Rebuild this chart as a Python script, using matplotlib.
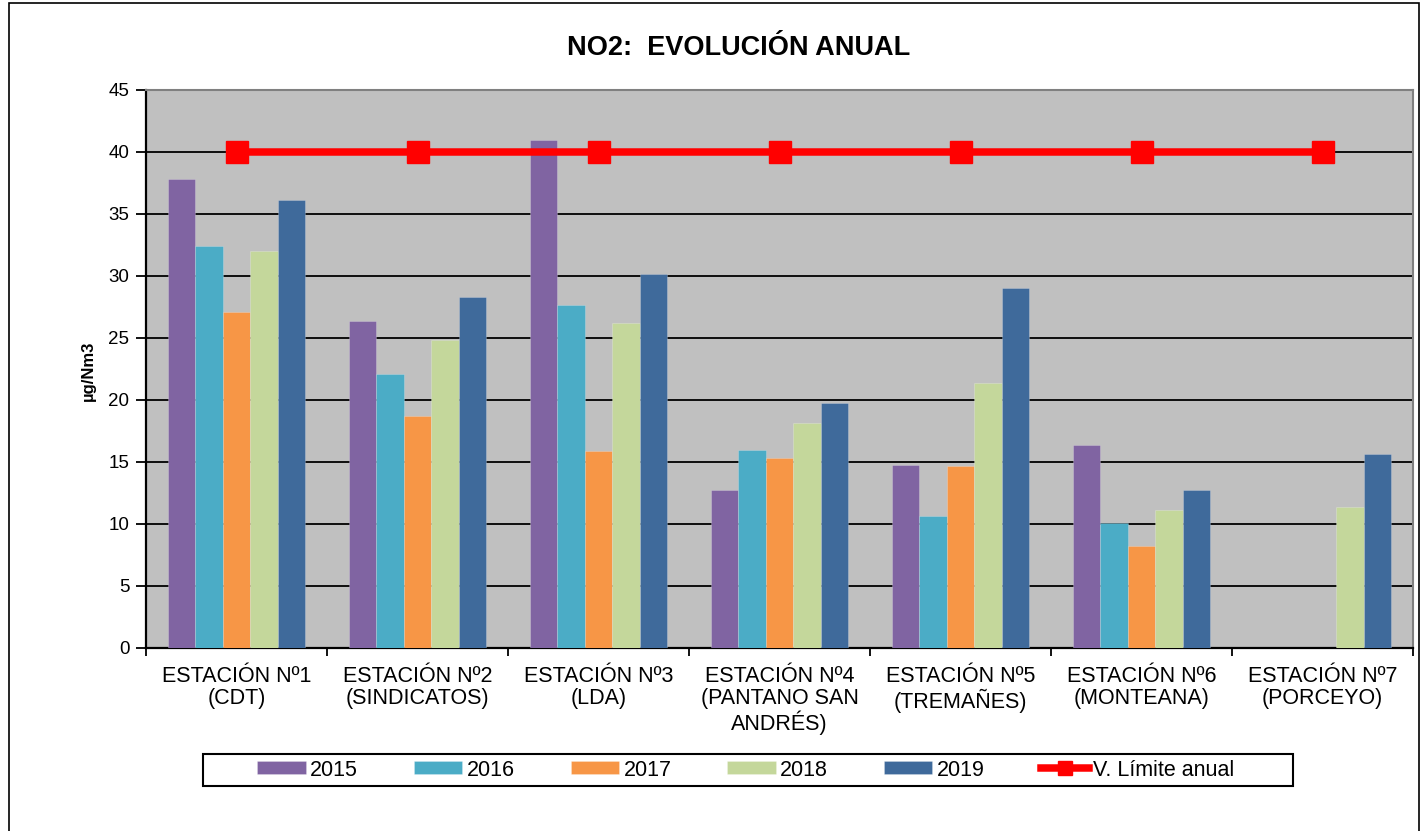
import matplotlib
matplotlib.use('Agg')
import matplotlib.pyplot as plt
import numpy as np
from matplotlib.patches import Rectangle

plt.rcParams['font.family'] = ['Liberation Sans', 'DejaVu Sans']

categories = ["ESTACIÓN Nº1\n(CDT)", "ESTACIÓN Nº2\n(SINDICATOS)", "ESTACIÓN Nº3\n(LDA)",
              "ESTACIÓN Nº4\n(PANTANO SAN\nANDRÉS)", "ESTACIÓN Nº5\n(TREMAÑES)",
              "ESTACIÓN Nº6\n(MONTEANA)", "ESTACIÓN Nº7\n(PORCEYO)"]
years = ['2015', '2016', '2017', '2018', '2019']
v2015 = [37.85, 26.4, 40.95, 12.75, 14.75, 16.4, np.nan]
v2016 = [32.4, 22.1, 27.7, 15.95, 10.65, 10.05, np.nan]
v2017 = [27.1, 18.75, 15.9, 15.35, 14.65, 8.2, np.nan]
v2018 = [32.0, 24.8, 26.25, 18.15, 21.4, 11.1, 11.4]
v2019 = [36.1, 28.3, 30.2, 19.75, 29.05, 12.75, 15.65]
limite = [40, 40, 40, 40, 40, 40, 40]
limite_label = 'V. Límite anual'

series = [v2015, v2016, v2017, v2018, v2019]
colors = ['#8064A2', '#4BACC6', '#F79646', '#C4D79B', '#3F6A9B']

W, H = 1426, 831
fig = plt.figure(figsize=(W / 100, H / 100), dpi=100)
L, R, T, B = 146, 1413, 90, 648
ax = fig.add_axes([L / W, 1 - B / H, (R - L) / W, (B - T) / H])
ax.set_facecolor('#C0C0C0')

x = np.arange(len(categories))
w = 0.152
handles = []
for i, (vals, c, lab) in enumerate(zip(series, colors, years)):
    h = ax.bar(x + (i - 2) * w, vals, w, color=c, label=lab, zorder=3,
               edgecolor=(1, 1, 1, 0.25), linewidth=0.6)
    handles.append(h)
ln, = ax.plot(x, limite, color='#FF0000', lw=5.4, marker='s', ms=16.5,
              zorder=4, label=limite_label)
handles.append(ln)

ax.set_xlim(-0.5, len(categories) - 0.5)
ax.set_ylim(0, 45)
ax.set_yticks(np.arange(0, 46, 5))
ax.yaxis.grid(True, color='black', lw=1.3)
ax.set_axisbelow(True)
ax.get_ygridlines()[-1].set_visible(False)
ax.get_ygridlines()[0].set_visible(False)

ax.set_xticks(x)
ax.set_xticklabels(categories, fontsize=15.5, linespacing=1.08)
ax.set_xticks(np.arange(-0.5, len(categories), 1), minor=True)
ax.tick_params(axis='x', which='major', length=0, pad=13)
ax.tick_params(axis='x', which='minor', length=6, width=1.3, direction='out')
ax.tick_params(axis='y', which='major', length=7, width=1.3, direction='out',
               labelsize=13.5, pad=5)

for s in ['left', 'bottom']:
    ax.spines[s].set_color('black')
    ax.spines[s].set_linewidth(1.6)
for s in ['top', 'right']:
    ax.spines[s].set_color('#808080')
    ax.spines[s].set_linewidth(1.5)

fig.text(88 / W, 1 - 371 / H, 'µg/Nm3', rotation=90, fontweight='bold',
         fontsize=12, ha='center', va='center')
fig.text(739 / W, 1 - 48 / H, 'NO2:  EVOLUCIÓN ANUAL', fontsize=19.5,
         fontweight='bold', ha='center', va='center')

leg = fig.legend(handles, years + [limite_label], loc='center',
                 bbox_to_anchor=(746 / W, 1 - 770 / H), ncol=6, frameon=False,
                 fontsize=15.5, handlelength=2.25, handleheight=0.55,
                 columnspacing=2.6, handletextpad=0.2, borderpad=0.0,
                 markerscale=0.6)

fig.add_artist(Rectangle((203 / W, 1 - 786 / H), (1293 - 203) / W, 32 / H,
                         transform=fig.transFigure, fill=False, ec='black',
                         lw=1.5))
fig.add_artist(Rectangle((9 / W, -0.1), (1419 - 9) / W, (H - 3) / H + 0.1,
                         transform=fig.transFigure, fill=False, ec='black',
                         lw=1.2))

fig.savefig('out.png', dpi=100)
